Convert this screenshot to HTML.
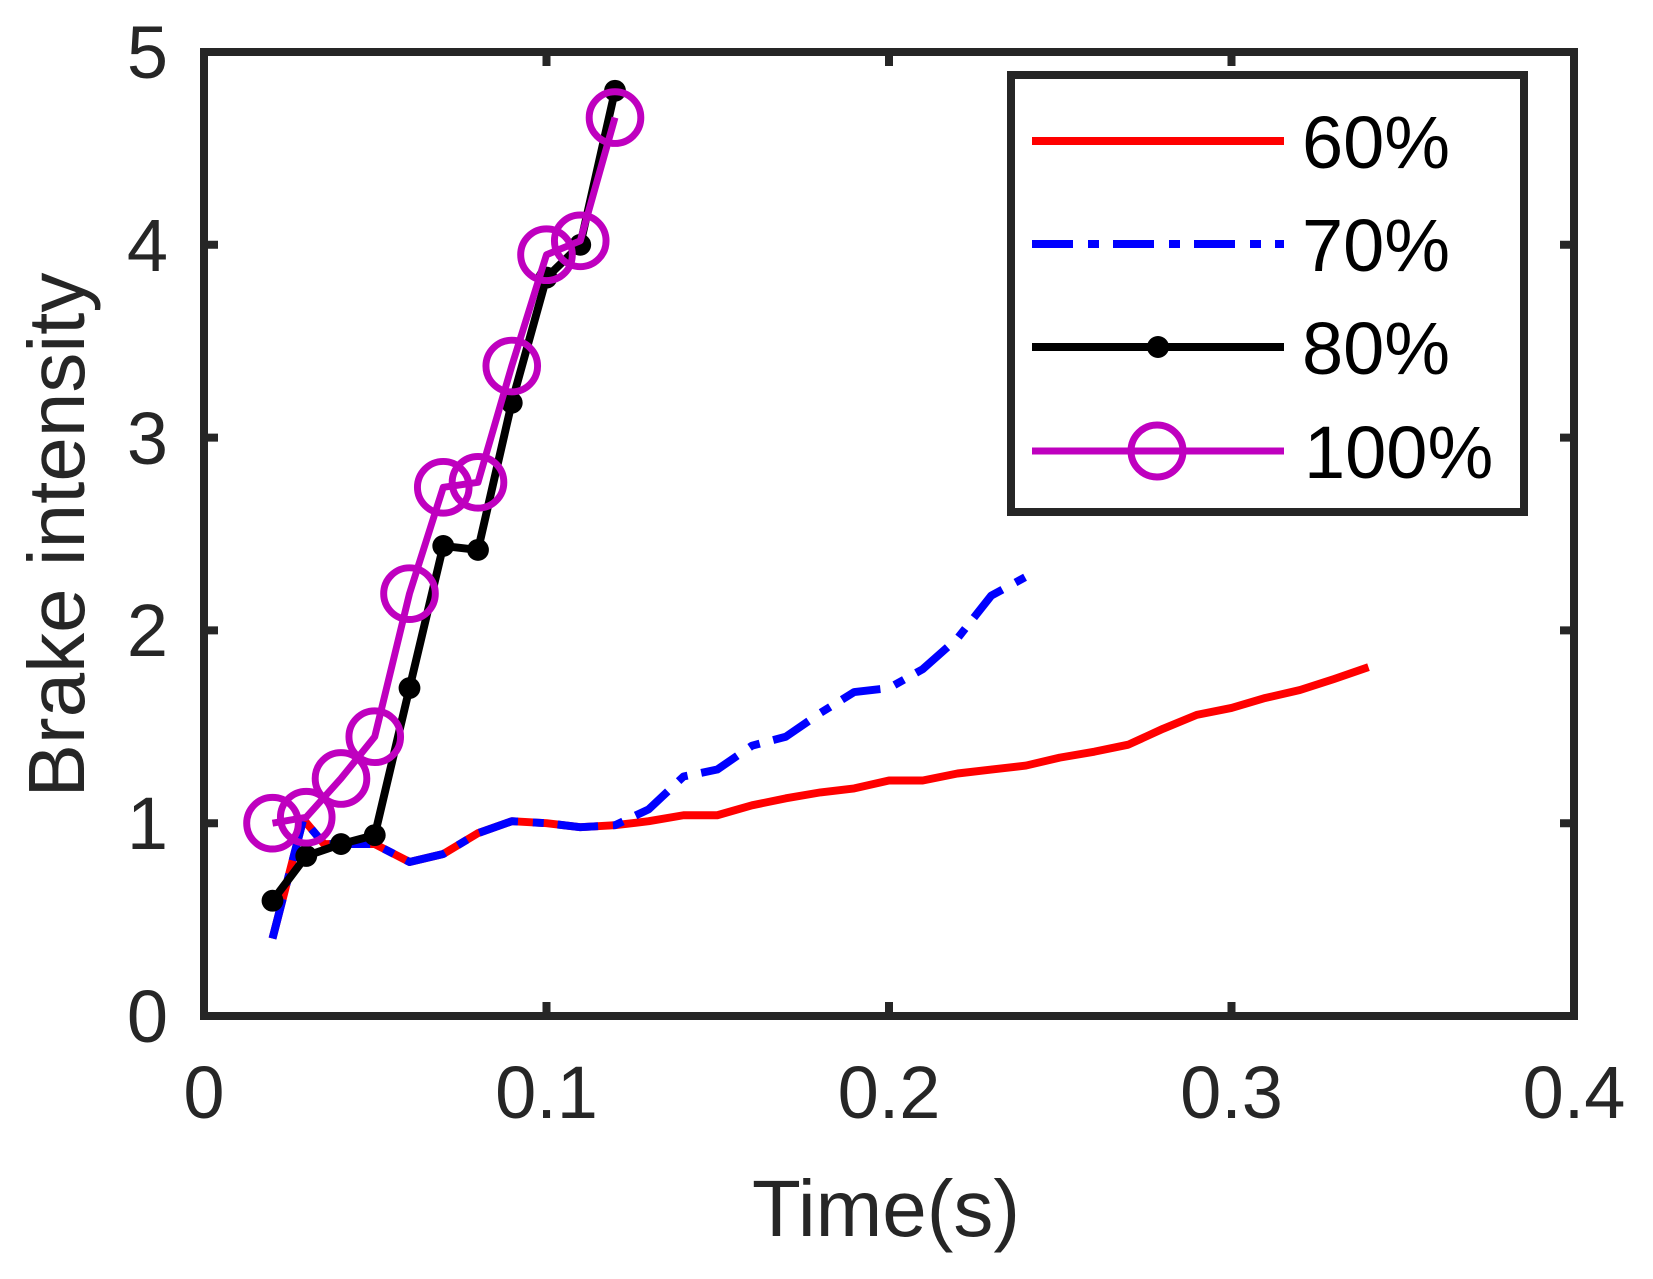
<!DOCTYPE html>
<html><head><meta charset="utf-8"><style>html,body{margin:0;padding:0;background:#fff}svg{display:block}</style></head>
<body>
<svg width="1653" height="1279" viewBox="0 0 1653 1279" xmlns="http://www.w3.org/2000/svg" font-family="Liberation Sans, Arial, sans-serif">
<defs><clipPath id="c"><rect x="204" y="52" width="1370" height="964"/></clipPath></defs>
<g clip-path="url(#c)">
<g transform="matrix(0.99275 0 0 0.99381 -1.499 0.326)" fill="none" stroke-linejoin="round">
<polyline stroke="#ff0000" stroke-width="8" points="276,944 307,824 328,849 345,849 379,849 414,867 448,859 483,838 517,826 552,828 586,832 621,830 655,826 690,820 724,820 759,810 793,803 828,797 862,793 897,785 931,785 966,778 1000,774 1035,770 1069,762 1104,756 1138,749 1173,733 1207,719 1242,712 1276,702 1311,694 1345,683 1380,671"/>
<polyline stroke="#0000ff" stroke-width="8" stroke-dasharray="41 15 11 14" points="276,944 307,824 328,849 345,849 379,849 414,867 448,859 483,838 517,826 552,828 586,832 621,830 655,814 690,781 724,774 759,750 793,741 828,717 862,696 897,692 931,673 966,642 1000,599 1035,580"/>
<polyline stroke="#000" stroke-width="8" points="276,906 310,861 345,849 379,840 414,692 448,549 483,553 517,405 552,279 586,246 621,91"/>
<g fill="#000" stroke="none">
<circle cx="276" cy="906" r="11"/><circle cx="310" cy="861" r="11"/><circle cx="345" cy="849" r="11"/><circle cx="379" cy="840" r="11"/><circle cx="414" cy="692" r="11"/><circle cx="448" cy="549" r="11"/><circle cx="483" cy="553" r="11"/><circle cx="517" cy="405" r="11"/><circle cx="552" cy="279" r="11"/><circle cx="586" cy="246" r="11"/><circle cx="621" cy="91" r="11"/>
</g>
<polyline stroke="#bf00bf" stroke-width="7" points="276,828 310,822 345,783 379,741 414,597 448,490 483,485 517,368 552,256 586,242 621,118"/>
<g stroke="#bf00bf" stroke-width="7">
<circle cx="276" cy="828" r="26"/><circle cx="310" cy="822" r="26"/><circle cx="345" cy="783" r="26"/><circle cx="379" cy="741" r="26"/><circle cx="414" cy="597" r="26"/><circle cx="448" cy="490" r="26"/><circle cx="483" cy="485" r="26"/><circle cx="517" cy="368" r="26"/><circle cx="552" cy="256" r="26"/><circle cx="586" cy="242" r="26"/><circle cx="621" cy="118" r="26"/>
</g>
</g>
</g>
<g stroke="#262626" stroke-width="8" fill="none">
<rect x="204" y="52" width="1370" height="964"/>
<path d="M546.5 1016v-14M889 1016v-14M1231.5 1016v-14M546.5 52v14M889 52v14M1231.5 52v14M204 823.2h14M204 630.4h14M204 437.6h14M204 244.8h14M1574 823.2h-14M1574 630.4h-14M1574 437.6h-14M1574 244.8h-14"/>
</g>
<g fill="#262626" font-size="74">
<g text-anchor="end"><text x="168" y="1042">0</text><text x="168" y="849">1</text><text x="168" y="656">2</text><text x="168" y="464">3</text><text x="168" y="271">4</text><text x="168" y="78">5</text></g>
<g text-anchor="middle"><text x="204" y="1118">0</text><text x="546.5" y="1118">0.1</text><text x="889" y="1118">0.2</text><text x="1231.5" y="1118">0.3</text><text x="1574" y="1118">0.4</text></g>
<text x="886" y="1236" text-anchor="middle" font-size="80">Time(s)</text>
<text transform="translate(84,535) rotate(-90)" text-anchor="middle" font-size="80">Brake intensity</text>
</g>
<g transform="translate(-11,-3)">
<rect x="1022" y="78" width="513" height="437" fill="#fff" stroke="#262626" stroke-width="8"/>
<g fill="none">
<line x1="1043" y1="144" x2="1295" y2="144" stroke="#ff0000" stroke-width="8"/>
<line x1="1043" y1="247" x2="1295" y2="247" stroke="#0000ff" stroke-width="8" stroke-dasharray="41 15 11 14"/>
<line x1="1043" y1="350" x2="1295" y2="350" stroke="#000" stroke-width="8"/>
<circle cx="1169" cy="350" r="11" fill="#000"/>
<line x1="1043" y1="454" x2="1295" y2="454" stroke="#bf00bf" stroke-width="7"/>
<circle cx="1168" cy="454" r="26" stroke="#bf00bf" stroke-width="7"/>
</g>
<g fill="#000" font-size="74">
<text x="1313" y="171">60%</text><text x="1313" y="274">70%</text><text x="1313" y="377">80%</text><text x="1315" y="481">100%</text>
</g>
</g>
</svg>
</body></html>
